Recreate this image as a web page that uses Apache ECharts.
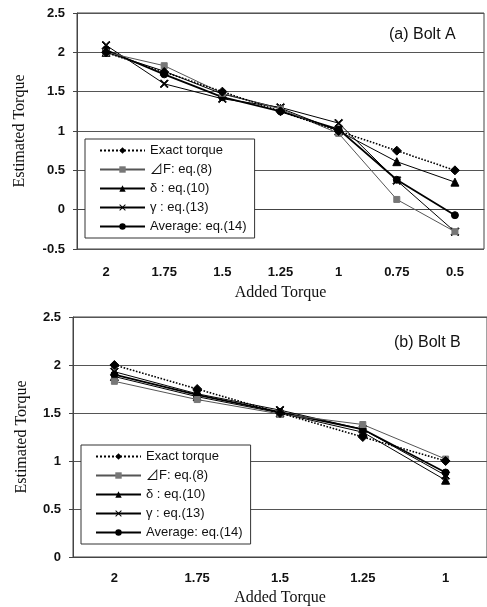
<!DOCTYPE html>
<html><head><meta charset="utf-8">
<script src="https://cdn.jsdelivr.net/npm/echarts@6/dist/echarts.min.js"></script>
<style>html,body{margin:0;padding:0;background:#fff}#c{width:487px;height:607px}</style>
</head><body><div id="c"></div>
<script>
// ---- data ----
const catsA = ['2','1.75','1.5','1.25','1','0.75','0.5'];
const catsB = ['2','1.75','1.5','1.25','1'];
const names = ['Exact torque','⊿F: eq.(8)','δ : eq.(10)','γ : eq.(13)','Average: eq.(14)'];
// Bolt A
const exactA = [2, 1.75, 1.5, 1.25, 1, 0.75, 0.5];
const dFA    = [2.0, 1.83, 1.48, 1.28, 0.97, 0.13, -0.28];
const deltaA = [2.0, 1.76, 1.47, 1.29, 1.0, 0.61, 0.35];
const gammaA = [2.09, 1.60, 1.41, 1.30, 1.10, 0.37, -0.28];
const avgA   = [2.03, 1.72, 1.43, 1.25, 1.02, 0.38, -0.07];
// Bolt B
const exactB = [2, 1.75, 1.5, 1.25, 1];
const dFB    = [1.83, 1.64, 1.49, 1.38, 1.02];
const deltaB = [1.88, 1.67, 1.50, 1.30, 0.80];
const gammaB = [1.93, 1.70, 1.53, 1.33, 0.85];
const avgB   = [1.90, 1.69, 1.51, 1.33, 0.88];
const yTicksA = {min: -0.5, max: 2.5, interval: 0.5};
const yTicksB = {min: 0, max: 2.5, interval: 0.5};

const XSYM = 'path://M0,1L1,0L5,4L9,0L10,1L6,5L10,9L9,10L5,6L1,10L0,9L4,5Z';
const styles = [
  {symbol:'diamond', symbolSize:9, color:'#000', line:{type:'dotted', width:1.6, color:'#000'}},
  {symbol:'rect', symbolSize:6, color:'#777', line:{type:'solid', width:1, color:'#555'}},
  {symbol:'triangle', symbolSize:8, color:'#000', line:{type:'solid', width:1, color:'#000'}},
  {symbol:XSYM, symbolSize:8, color:'#000', line:{type:'solid', width:1, color:'#000'}},
  {symbol:'circle', symbolSize:7, color:'#000', line:{type:'solid', width:1.8, color:'#000'}}
];
function mk(name, data, gi, k){
  const s = styles[k];
  return {name, type:'line', xAxisIndex:gi, yAxisIndex:gi, data,
    symbol:s.symbol, symbolSize:s.symbolSize, z: 5-k+2,
    itemStyle:{color:s.color, borderColor:s.color},
    lineStyle:s.line, animation:false};
}
const seriesA = [exactA,dFA,deltaA,gammaA,avgA];
const seriesB = [exactB,dFB,deltaB,gammaB,avgB];
const series = [];
seriesA.forEach((d,k)=>series.push(mk(names[k], d, 0, k)));
seriesB.forEach((d,k)=>series.push(mk(names[k], d, 1, k)));

const tickFont = {fontFamily:'Liberation Sans, Arial, sans-serif', fontSize:13, fontWeight:'bold', color:'#111'};
const nameFont = {fontFamily:'Liberation Serif, Times New Roman, serif', fontSize:16, color:'#111'};
function xAx(gi, cats, gap, margin){
  return {type:'category', gridIndex:gi, data:cats, boundaryGap:true,
    name:'Added Torque', nameLocation:'middle', nameGap:gap, nameTextStyle:nameFont,
    axisLine:{lineStyle:{color:'#444', width:1}},
    axisTick:{inside:true, length:3, lineStyle:{color:'#444'}},
    axisLabel:Object.assign({margin:margin}, tickFont)};
}
function yAx(gi, t, gap){
  return {type:'value', gridIndex:gi, min:t.min, max:t.max, interval:t.interval,
    name:'Estimated Torque', nameLocation:'middle', nameGap:gap, nameTextStyle:nameFont,
    axisLine:{show:true, lineStyle:{color:'#444'}},
    axisTick:{show:true, length:4, lineStyle:{color:'#444'}},
    splitLine:{lineStyle:{color:'#555', width:1}},
    axisLabel:Object.assign({margin:12}, tickFont)};
}
const legFont = {fontFamily:'Liberation Sans, Noto Sans CJK JP, sans-serif', fontSize:13, color:'#111'};
function leg(left, top){
  return {orient:'vertical', left, top, data:names, itemWidth:45, itemHeight:8, itemGap:6,
    padding:[5,8,5,14], borderColor:'#333', borderWidth:1, backgroundColor:'#fff',
    textStyle:legFont, selectedMode:false};
}
const titleFont = {fontFamily:'Liberation Sans, Arial, sans-serif', fontSize:16, fontWeight:'normal', color:'#111'};
const option = {
  animation:false,
  backgroundColor:'#fff',
  title:[
    {text:'(a) Bolt A', left:389, top:27, textStyle:titleFont, padding:0},
    {text:'(b) Bolt B', left:394, top:335, textStyle:titleFont, padding:0}
  ],
  grid:[
    {left:77, top:13, width:407, height:236, show:true, borderColor:'#444', borderWidth:1},
    {left:73, top:317, width:416, height:240, show:true, borderColor:'#444', borderWidth:1}
  ],
  xAxis:[xAx(0, catsA, 36, 17), xAx(1, catsB, 33, 15)],
  yAxis:[yAx(0, yTicksA, 49), yAx(1, yTicksB, 43)],
  legend:[leg(85, 139), leg(81, 445)],
  series
};
const ch = echarts.init(document.getElementById('c'), null, {renderer:'canvas'});
ch.setOption(option);
</script></body></html>
